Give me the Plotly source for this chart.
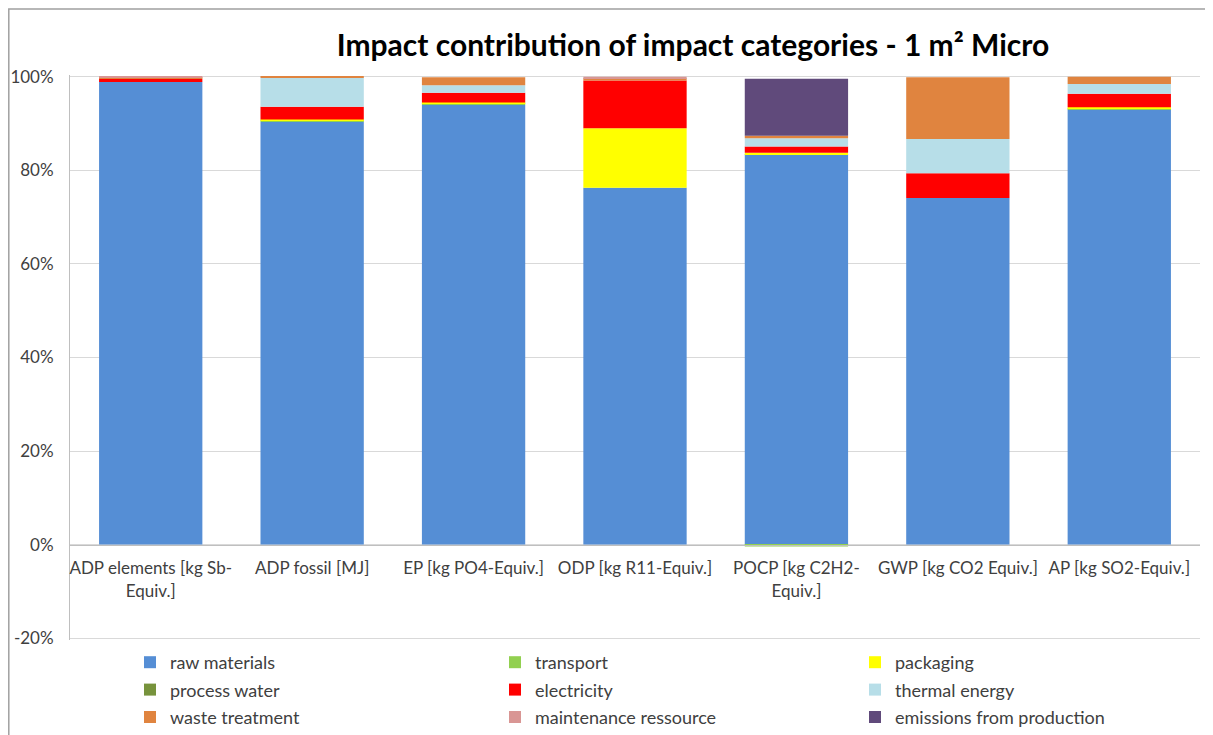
import plotly.graph_objects as go

categories = [
    "ADP elements [kg Sb-<br>Equiv.]",
    "ADP fossil [MJ]",
    "EP [kg PO4-Equiv.]",
    "ODP [kg R11-Equiv.]",
    "POCP [kg C2H2-<br>Equiv.]",
    "GWP [kg CO2 Equiv.]",
    "AP [kg SO2-Equiv.]",
]

raw_materials = [98.9, 90.4, 94.0, 76.3, 83.5, 74.1, 93.0]
transport = [0.0, 0.3, 0.3, 0.0, -0.4, 0.0, 0.3]
packaging = [0.0, 0.2, 0.2, 12.7, 0.3, 0.0, 0.2]
process_water = [0.0, 0.0, 0.0, 0.0, 0.0, 0.0, 0.0]
electricity = [0.7, 2.7, 2.1, 10.2, 1.3, 5.3, 2.9]
thermal_energy = [0.0, 6.2, 1.6, 0.0, 1.8, 7.3, 2.1]
waste_treatment = [0.2, 0.2, 1.7, 0.5, 0.5, 13.2, 1.5]
maintenance_ressource = [0.2, 0.0, 0.0, 0.3, 0.0, 0.0, 0.0]
emissions_from_production = [0.0, 0.0, 0.0, 0.0, 12.2, 0.0, 0.0]

y_ticks = [-20, 0, 20, 40, 60, 80, 100]
y_tick_labels = ["-20%", "0%", "20%", "40%", "60%", "80%", "100%"]

series = [
    ("raw materials", raw_materials, "#558ED5", "legend"),
    ("transport", transport, "#92D050", "legend2"),
    ("packaging", packaging, "#FFFF00", "legend3"),
    ("process water", process_water, "#77933C", "legend"),
    ("electricity", electricity, "#FF0000", "legend2"),
    ("thermal energy", thermal_energy, "#B7DEE8", "legend3"),
    ("waste treatment", waste_treatment, "#E0843F", "legend"),
    ("maintenance ressource", maintenance_ressource, "#D99694", "legend2"),
    ("emissions from production", emissions_from_production, "#604A7B", "legend3"),
]

FONT = "Lato"
TXT = "#404040"

fig = go.Figure()
for name, vals, color, leg in series:
    fig.add_trace(go.Bar(
        x=categories, y=vals, name=name,
        marker=dict(color=color, line=dict(width=0)),
        legend=leg, legendgroup=name,
    ))

# The page body adds an 8px offset; layout positions below are given in
# on-screen pixels and converted to figure coordinates.
OFF = 8
W, H = 1213, 735
SCR_L, SCR_R, SCR_T, SCR_B = 70, 1200, 75, 640
L = SCR_L - OFF
R = W - (SCR_R - OFF)
T = SCR_T - OFF
B = H - (SCR_B - OFF)
plot_w = W - L - R
plot_h = H - T - B


def px_to_paper_y(py):
    return (SCR_B - py) / plot_h


def px_to_paper_x(px):
    return (px - SCR_L) / plot_w


legend_common = dict(
    orientation="v", yanchor="top", xanchor="left",
    y=px_to_paper_y(644), bgcolor="rgba(0,0,0,0)",
    font=dict(family=FONT, size=18, color=TXT),
    tracegroupgap=1, traceorder="grouped",
)

fig.update_layout(
    width=W, height=H,
    margin=dict(l=L, r=R, t=T, b=B, autoexpand=False),
    paper_bgcolor="white", plot_bgcolor="white",
    barmode="relative", bargap=0.36,
    title=dict(
        text="<b>Impact contribution of impact categories - 1 m² Micro</b>",
        font=dict(family=FONT, size=30, color="black"),
        x=(693 - OFF) / W, xanchor="center", xref="container",
        y=1 - (45 - OFF) / H, yanchor="middle", yref="container",
    ),
    font=dict(family=FONT, size=17, color=TXT),
    legend=dict(legend_common, x=px_to_paper_x(130)),
    legend2=dict(legend_common, x=px_to_paper_x(495)),
    legend3=dict(legend_common, x=px_to_paper_x(855)),
    xaxis=dict(
        anchor="free", position=px_to_paper_y(545),
        showline=True, linecolor="#BFBFBF", linewidth=1,
        showgrid=False, ticks="", ticklabelstandoff=8,
        tickfont=dict(family=FONT, size=17, color=TXT),
    ),
    yaxis=dict(
        range=[-20.4, 100.4], tickmode="array",
        tickvals=y_ticks, ticktext=y_tick_labels,
        showline=True, linecolor="#BFBFBF", linewidth=1,
        showgrid=True, gridcolor="#D9D9D9", gridwidth=1,
        zeroline=False, ticks="", ticklabelstandoff=12,
        tickfont=dict(family=FONT, size=17, color=TXT),
    ),
    showlegend=True,
)

# chart border (outer frame)
fig.add_shape(
    type="rect", xref="paper", yref="paper",
    x0=px_to_paper_x(8.8), x1=px_to_paper_x(1210),
    y0=px_to_paper_y(760), y1=px_to_paper_y(9),
    line=dict(color="#A0A0A0", width=1.5), fillcolor="rgba(0,0,0,0)",
    layer="below",
)

fig.write_html("out.html")
